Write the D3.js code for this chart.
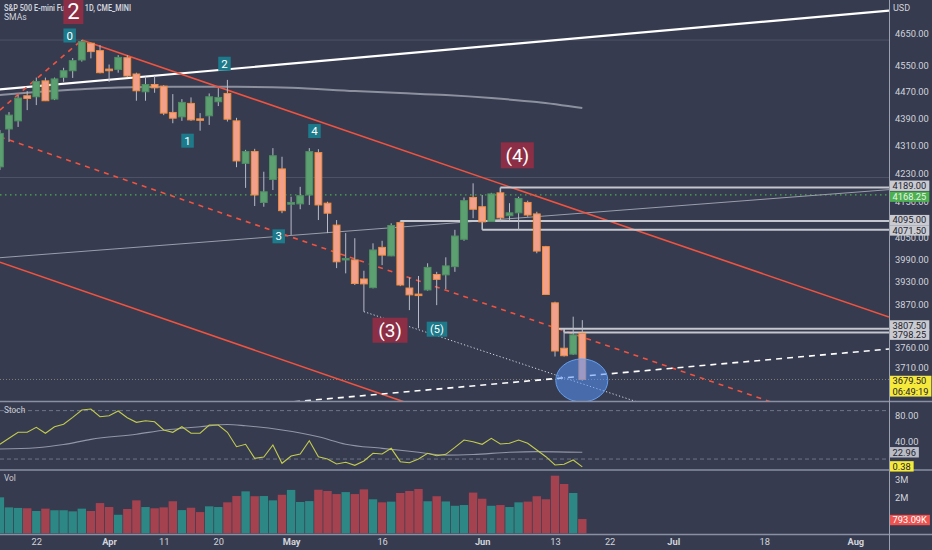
<!DOCTYPE html>
<html><head><meta charset="utf-8">
<script src="https://cdn.jsdelivr.net/npm/d3@7"></script>
<style>
html,body{margin:0;padding:0;background:#363b4f;overflow:hidden}
svg{display:block}
text{font-family:Roboto,"DejaVu Sans",sans-serif}
</style></head><body>
<svg id="c" width="932" height="550"></svg>
<script>
// ---------- DATA ----------
const dates = ["2022-03-16","2022-03-17","2022-03-18","2022-03-21","2022-03-22","2022-03-23","2022-03-24","2022-03-25","2022-03-28","2022-03-29","2022-03-30","2022-03-31","2022-04-01","2022-04-04","2022-04-05","2022-04-06","2022-04-07","2022-04-08","2022-04-11","2022-04-12","2022-04-13","2022-04-14","2022-04-18","2022-04-19","2022-04-20","2022-04-21","2022-04-22","2022-04-25","2022-04-26","2022-04-27","2022-04-28","2022-04-29","2022-05-02","2022-05-03","2022-05-04","2022-05-05","2022-05-06","2022-05-09","2022-05-10","2022-05-11","2022-05-12","2022-05-13","2022-05-16","2022-05-17","2022-05-18","2022-05-19","2022-05-20","2022-05-23","2022-05-24","2022-05-25","2022-05-26","2022-05-27","2022-05-31","2022-06-01","2022-06-02","2022-06-03","2022-06-06","2022-06-07","2022-06-08","2022-06-09","2022-06-10","2022-06-13","2022-06-14","2022-06-15","2022-06-16"];
const open = [4248,4358,4382,4457,4454,4502,4447,4513,4533,4566, 4618,4595,4538,4537,4573,4523,4469,4491,4486,4407, 4394,4434,4388,4397,4439,4464,4382,4258,4292,4147, 4212,4242,4142,4143,4168,4289,4145,4084,3989,3989, 3938,3915,4023,4000,4091,3914,3898,3909,3950,3949, 3971,4045,4161,4135,4094,4174,4110,4118,4147,4115, 4025,3875,3758,3743,3796];
const high = [4355,4408,4459,4471,4512,4512,4512,4542,4572,4628, 4620,4612,4552,4581,4581,4527,4515,4517,4489,4462, 4447,4452,4405,4464,4480,4505,4391,4297,4300,4234, 4302,4277,4163,4191,4302,4299,4149,4098,4062,4048, 3960,4034,4041,4089,4096,3942,3946,3980,3957,3996, 4071,4161,4201,4168,4174,4187,4145,4163,4152,4121, 4027,3878,3805,3839,3830];
const low = [4239,4320,4364,4414,4429,4441,4444,4499,4511,4561, 4571,4525,4499,4527,4513,4442,4442,4466,4399,4375, 4382,4382,4353,4370,4426,4380,4247,4188,4137,4135, 4182,4117,4057,4128,4140,4098,4062,3967,3953,3922, 3852,3913,3975,3999,3919,3856,3809,3907,3869,3911, 3957,4041,4103,4091,4093,4094,4098,4071,4107,4007, 3896,3737,3737,3741,3676];
const close = [4345,4399,4450,4449,4500,4442,4508,4533,4564,4623, 4592,4527,4533,4574,4517,4472,4491,4481,4405,4390, 4437,4385,4384,4454,4452,4387,4265,4292,4168,4177, 4280,4124,4147,4166,4292,4140,4117,3984,3993,3926, 3925,4016,4002,4083,3922,3896,3896,3969,3937,3973, 4054,4152,4128,4093,4171,4104,4118,4158,4112,4013, 3897,3751,3739,3792,3679.5];
const volumeM = [2.0,1.44,1.41,1.39,1.24,1.37,1.28,1.28,1.22,1.37, 1.24,1.68,1.46,1.03,1.35,1.83,1.46,1.39,1.44,1.78, 1.29,1.42,1.18,1.5,1.46,1.72,2.07,2.33,2.06,2.07, 1.83,2.14,2.41,1.74,1.79,2.42,2.35,2.18,2.29,2.18, 2.44,1.89,1.72,1.76,2.24,2.35,2.46,1.78,2.06,1.77, 1.53,1.57,2.26,1.92,1.53,1.57,1.46,1.72,1.76,2.06, 1.89,3.2,2.74,2.24,0.79309];
const stochK = [35.3,44.6,53.9,53.9,61.7,52.4,62.6,66.3,77.1,88.5, 90.0,78.1,79.6,86.9,76.5,69.4,71.9,70.3,57.5,53.9, 62.6,52.4,52.4,65.2,65.2,53.9,31.6,35.3,13.6,15.6, 34.2,5.9,17.2,20.3,40.9,16.1,12.5,4.8,7.4,2.8, 9.5,21.4,20.3,29.1,8.4,6.8,12.5,21.4,17.7,19.8, 30.5,42,39.4,35.3,44.6,35.8,36.9,42,36.9,26.5, 16.1,3.3,4.3,11,0.38];
const stochSlowIdx = [1,5,8,11,16,19,23,26,28,32,36,39,43,47,50,53,57,60,65];
const stochSlowVal = [28,30,35,43,51,57,62.5,66,64,57.5,47,35.5,29,23,18.5,19.5,23,24,22.96];
const smaIdx = [1,5,10,14,20,27,33,40,45,50,55,60,65];
const smaVal = [4459,4468,4477,4482,4484,4484,4481,4471,4465,4459,4450,4438,4420];
const priceTicks = [4650,4550,4470,4390,4310,4230,4150,4050,3990,3930,3870,3760,3710];
const stochTicks = [80,40];
const stochBands = [87.5,12.5];
const volTicks = [3,2];
const timeTickIdx = [5,13,19,25,33,43,54,62,68,75,85,95];
const timeTickLabels = ["22","Apr","11","20","May","16","Jun","13","22","Jul","18","Aug"];
// drawings in (bar index, price)
const trendLines = [
  {a:[1,3995], b:[98.7,4183], stroke:"#9a9eaa", w:1, dash:null},
  {a:[1,4476], b:[98.7,4721], stroke:"#ffffff", w:2.2, dash:null},
  {a:[10,4628], b:[98.7,3838], stroke:"#f0533f", w:1.6, dash:null},
  {a:[1,4414], b:[10,4628], stroke:"#f0533f", w:1.6, dash:"5,5"},
  {a:[1,4335], b:[98.7,3526], stroke:"#f0533f", w:1.6, dash:"5,5"},
  {a:[1,3983], b:[55.96,3544], stroke:"#f0533f", w:1.6, dash:null},
  {a:[28.5,3615], b:[98.7,3756], stroke:"#ffffff", w:1.6, dash:"6,5"},
  {a:[41,3852], b:[72,3617], stroke:"#d8dbe2", w:1, dash:"1.2,2.2"}
];
const faintLevels = [4628,4217.5];
const rays = [{p:4189,from:56},{p:4095,from:45},{p:4071.5,from:54},{p:3807.5,from:62},{p:3798.25,from:63}];
const rayLinks = [{i:56,p1:4189,p2:4168.25},{i:54,p1:4095,p2:4071.5},{i:63,p1:3807.5,p2:3798.25}];
const annotations = [
  {t:"0",i:8.67,p:4642.2,k:"teal",w:12.5,h:14,fs:11.5},
  {t:"2",i:25.68,p:4554.5,k:"teal",w:12.5,h:14,fs:11.5},
  {t:"1",i:21.62,p:4323.7,k:"teal",w:12.5,h:14,fs:11.5},
  {t:"4",i:35.57,p:4352,k:"teal",w:12.5,h:14,fs:11.5},
  {t:"3",i:31.64,p:4053.2,k:"teal",w:12.5,h:14,fs:11.5},
  {t:"(5)",i:49.03,p:3806.6,k:"teal",w:20.5,h:15,fs:11},
  {t:"(3)",i:43.87,p:3804,k:"maroon",w:35,h:25,fs:19},
  {t:"(4)",i:57.86,p:4281.2,k:"maroon",w:33,h:26,fs:19},
  {t:"2",i:9.07,p:4719.6,k:"maroon",w:20,h:26,fs:22}
];
const lastPrice = 3679.5, prevLevel = 4168.25, countdown = "06:49:19";

// ---------- SCALES ----------
const AX = 889;
const svg = d3.select("#c");
const xs = d3.scaleLinear().domain([0,100]).range([-9.2,900.8]);
const ys = d3.scaleLog().domain([3628.8,4754.9]).range([400,0]);
const ysto = d3.scaleLinear().domain([0,100]).range([467.1,402.55]);
const yvol = d3.scaleLinear().domain([0,3.5]).range([533.3,470.3]);

const defs = svg.append("defs");
[["cpMain",0,0,AX,401],["cpSto",0,402,AX,67],["cpVol",0,471,AX,63]].forEach(c=>{
  defs.append("clipPath").attr("id",c[0]).append("rect").attr("x",c[1]).attr("y",c[2]).attr("width",c[3]).attr("height",c[4]);
});
svg.append("rect").attr("width",932).attr("height",550).attr("fill","#363b4f");

const candles = dates.map((d,k)=>({i:k+1,d,o:open[k],h:high[k],l:low[k],c:close[k],v:volumeM[k],s:stochK[k]}));

// header
svg.append("text").attr("x",4).attr("y",10.5).attr("font-size",8.6).attr("font-weight",600)
  .attr("fill","#d1d4dc").attr("textLength",127).attr("lengthAdjust","spacingAndGlyphs")
  .text("S&P 500 E-mini Futures, 1D, CME_MINI");
svg.append("text").attr("x",4).attr("y",19.8).attr("font-size",8.6).attr("fill","#d1d4dc").text("SMAs");

// ---------- MAIN PANE ----------
const gm = svg.append("g").attr("clip-path","url(#cpMain)");
gm.selectAll(".faint").data(faintLevels).join("line")
  .attr("x1",0).attr("x2",AX).attr("y1",d=>ys(d)).attr("y2",d=>ys(d))
  .attr("stroke","rgba(165,170,185,0.22)").attr("stroke-width",1);
gm.append("line").attr("x1",0).attr("x2",AX).attr("y1",ys(lastPrice)).attr("y2",ys(lastPrice))
  .attr("stroke","rgba(185,185,150,0.55)").attr("stroke-dasharray","1,2");
gm.append("line").attr("x1",0).attr("x2",AX).attr("y1",ys(prevLevel)).attr("y2",ys(prevLevel))
  .attr("stroke","#4caf50").attr("stroke-width",1.3).attr("stroke-dasharray","1.5,3.5");
gm.append("path").datum(smaIdx.map((d,k)=>[d,smaVal[k]]))
  .attr("d",d3.line().x(d=>xs(d[0])).y(d=>ys(d[1])).curve(d3.curveMonotoneX))
  .attr("fill","none").attr("stroke","#8d919e").attr("stroke-width",2);
gm.selectAll(".tl").data(trendLines).join("line")
  .attr("x1",d=>xs(d.a[0])).attr("y1",d=>ys(d.a[1])).attr("x2",d=>xs(d.b[0])).attr("y2",d=>ys(d.b[1]))
  .attr("stroke",d=>d.stroke).attr("stroke-width",d=>d.w).attr("stroke-dasharray",d=>d.dash);
gm.selectAll(".ray").data(rays).join("line")
  .attr("x1",d=>xs(d.from)).attr("x2",AX).attr("y1",d=>ys(d.p)).attr("y2",d=>ys(d.p))
  .attr("stroke","#c4c7ce").attr("stroke-width",2);
gm.selectAll(".rl").data(rayLinks).join("line")
  .attr("x1",d=>xs(d.i)).attr("x2",d=>xs(d.i)).attr("y1",d=>ys(d.p1)).attr("y2",d=>ys(d.p2))
  .attr("stroke","#c4c7ce").attr("stroke-width",1.5);
const cg = gm.selectAll(".cd").data(candles).join("g");
cg.append("line").attr("x1",d=>xs(d.i)).attr("x2",d=>xs(d.i)).attr("y1",d=>ys(d.h)).attr("y2",d=>ys(d.l))
  .attr("stroke","#b7bbc6").attr("stroke-width",1);
cg.append("rect").attr("x",d=>xs(d.i)-3.4).attr("width",6.8)
  .attr("y",d=>Math.min(ys(d.o),ys(d.c)))
  .attr("height",d=>Math.max(1.5,Math.abs(ys(d.o)-ys(d.c))))
  .attr("fill",d=>d.c>=d.o?"#5c9f70":"#f2a08b")
  .attr("stroke",d=>d.c>=d.o?"#4e8f62":"#f08d3f").attr("stroke-width",1);
gm.append("ellipse").attr("cx",xs(65)-0.5).attr("cy",ys(lastPrice)+1).attr("rx",26).attr("ry",21.5)
  .attr("fill","rgba(88,148,250,0.55)").attr("stroke","#63a0f0").attr("stroke-width",1);

const ag = svg.append("g").selectAll(".an").data(annotations).join("g")
  .attr("transform",d=>`translate(${xs(d.i)},${ys(d.p)})`);
ag.append("rect").attr("x",d=>-d.w/2).attr("y",d=>-d.h/2).attr("width",d=>d.w).attr("height",d=>d.h)
  .attr("fill",d=>d.k==="teal"?"#1d7a8b":"#8c2e45");
ag.append("text").attr("text-anchor","middle").attr("dy","0.36em").attr("font-size",d=>d.fs)
  .attr("fill","#ffffff").text(d=>d.t);

// ---------- STOCH PANE ----------
const gs = svg.append("g").attr("clip-path","url(#cpSto)");
gs.selectAll(".band").data(stochBands).join("line")
  .attr("x1",0).attr("x2",AX).attr("y1",d=>ysto(d)).attr("y2",d=>ysto(d))
  .attr("stroke","#6f7588").attr("stroke-dasharray","4,3");
gs.append("path").datum(stochSlowIdx.map((d,k)=>[d,stochSlowVal[k]]))
  .attr("d",d3.line().x(d=>xs(d[0])).y(d=>ysto(d[1])).curve(d3.curveMonotoneX))
  .attr("fill","none").attr("stroke","#9296a6").attr("stroke-width",1.1);
gs.append("path").datum(candles)
  .attr("d",d3.line().x(d=>xs(d.i)).y(d=>ysto(d.s)))
  .attr("fill","none").attr("stroke","#c3cc4c").attr("stroke-width",1.1);
svg.append("text").attr("x",4).attr("y",413).attr("font-size",8.3).attr("fill","#c9ccd4").text("Stoch");

// ---------- VOLUME PANE ----------
const gv = svg.append("g").attr("clip-path","url(#cpVol)");
gv.selectAll(".vb").data(candles).join("rect")
  .attr("x",d=>xs(d.i)-4.2).attr("width",8.4)
  .attr("y",d=>yvol(d.v)).attr("height",d=>yvol(0)-yvol(d.v))
  .attr("fill",d=>d.c>=d.o?"#2d8784":"#a5424f");
svg.append("text").attr("x",4).attr("y",481).attr("font-size",8.3).attr("fill","#c9ccd4").text("Vol");

// ---------- SEPARATORS / AXES ----------
[401.5,470,534.5].forEach(y=>svg.append("line").attr("x1",0).attr("x2",932).attr("y1",y).attr("y2",y)
  .attr("stroke","#8a90a3").attr("stroke-width",1.6));
svg.append("line").attr("x1",AX+0.5).attr("x2",AX+0.5).attr("y1",0).attr("y2",550).attr("stroke","#9ca1ae").attr("stroke-width",1);

function styleAxis(g){
  g.select(".domain").remove();
  g.selectAll("text").attr("fill","#d1d4dc").attr("font-size",9.3).attr("font-family","Roboto, sans-serif");
}
const fmt2 = d3.format(".2f");
svg.append("g").attr("transform",`translate(${AX},0)`)
  .call(d3.axisRight(ys).tickValues(priceTicks).tickSize(0).tickPadding(6).tickFormat(fmt2)).call(styleAxis);
svg.append("g").attr("transform",`translate(${AX},0)`)
  .call(d3.axisRight(ysto).tickValues(stochTicks).tickSize(0).tickPadding(6).tickFormat(fmt2)).call(styleAxis);
svg.append("g").attr("transform",`translate(${AX},0)`)
  .call(d3.axisRight(yvol).tickValues(volTicks).tickSize(0).tickPadding(6).tickFormat(d=>d+"M")).call(styleAxis);
const tx = svg.append("g").attr("transform","translate(0,534)")
  .call(d3.axisBottom(xs).tickValues(timeTickIdx).tickSize(0).tickPadding(4).tickFormat((d,k)=>timeTickLabels[k]));
tx.call(styleAxis);
tx.selectAll("text").attr("font-weight",(d,k)=>isNaN(+timeTickLabels[k])?700:400);
svg.append("text").attr("x",893).attr("y",11).attr("font-size",9).attr("fill","#d1d4dc").text("USD");

function tag(y,lines,bg,fg){
  const g = svg.append("g");
  const h = 10.4*lines.length;
  const r = g.append("rect").attr("x",AX+1).attr("y",y-5.2).attr("height",h).attr("fill",bg);
  let wmax = 0;
  lines.forEach((t,k)=>{
    const te = g.append("text").attr("x",AX+3.5).attr("y",y+k*10.4).attr("dy","0.35em")
      .attr("font-size",9.3).attr("fill",fg).text(t);
    wmax = Math.max(wmax, te.node().getComputedTextLength());
  });
  r.attr("width",wmax+5.5);
}
tag(ys(4189)-1.8,["4189.00"],"#c9cbd1","#1e222d");
tag(ys(prevLevel)+1.8,[fmt2(prevLevel)],"#4caf50","#e8f5e9");
tag(ys(4095)-1,["4095.00"],"#c9cbd1","#1e222d");
tag(ys(4071.5)+0.8,["4071.50"],"#c9cbd1","#1e222d");
tag(ys(3807.5)-3.4,["3807.50"],"#c9cbd1","#1e222d");
tag(ys(3798.25)+2.2,["3798.25"],"#c9cbd1","#1e222d");
tag(ys(lastPrice)+1.5,[fmt2(lastPrice),countdown],"#f5e93b","#1e222d");
tag(ysto(stochSlowVal[stochSlowVal.length-1]),[fmt2(stochSlowVal[stochSlowVal.length-1])],"#b9bcc5","#1e222d");
tag(ysto(stochK[stochK.length-1])-0.5,[fmt2(stochK[stochK.length-1])],"#f5e93b","#1e222d");
tag(yvol(volumeM[volumeM.length-1])+1,[d3.format(".2f")(volumeM[volumeM.length-1]*1000)+"K"],"#ef5350","#ffffff");
</script>
</body></html>
